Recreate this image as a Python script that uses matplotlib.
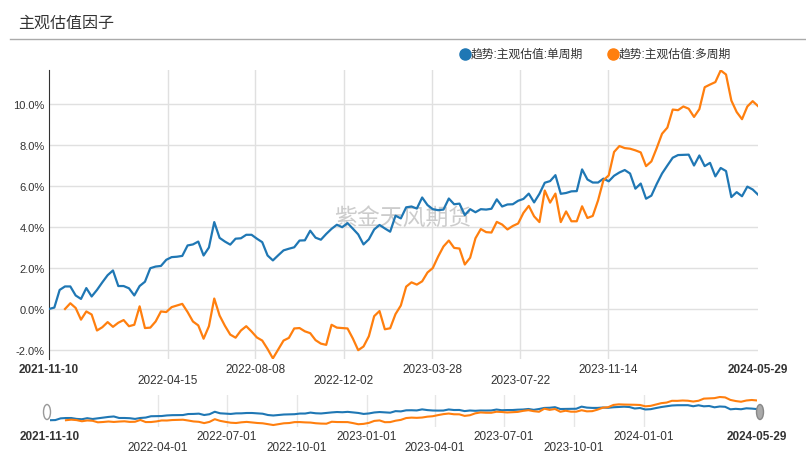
#!/usr/bin/env python3
"""主观估值因子: two weekly cumulative series with a small overview strip"""
import numpy as np
import pandas as pd
import matplotlib
matplotlib.use('Agg')
import matplotlib.pyplot as plt
from matplotlib.lines import Line2D
from matplotlib.patches import Ellipse
from matplotlib.transforms import blended_transform_factory

plt.rcParams['font.family'] = ['Liberation Sans', 'Noto Sans CJK SC', 'DejaVu Sans']

title = '主观估值因子'
watermark = '紫金天风期货'
names = ['趋势:主观估值:单周期', '趋势:主观估值:多周期']
colors = ['#1f77b4', '#ff7f0e']

dates = pd.date_range('2021-11-10', '2024-05-29', freq='7D')

# weekly values in %
single = [
    0.0, 0.07, 0.93, 1.1, 1.1, 0.66, 0.49, 1.02, 0.61, 0.93,
    1.3, 1.65, 1.88, 1.12, 1.12, 1.01, 0.66, 1.12, 1.33, 1.99,
    2.07, 2.1, 2.4, 2.53, 2.55, 2.59, 3.1, 3.15, 3.29, 2.61,
    3.0, 4.24, 3.47, 3.29, 3.14, 3.43, 3.45, 3.62, 3.62, 3.43,
    3.26, 2.61, 2.37, 2.62, 2.86, 2.94, 3.01, 3.34, 3.35, 3.82,
    3.48, 3.38, 3.66, 3.91, 4.11, 3.99, 4.19, 3.92, 3.64, 3.15,
    3.4, 3.88, 4.1, 3.93, 3.77, 4.55, 4.42, 4.96, 5.0, 4.9,
    5.44, 5.07, 4.87, 4.82, 4.85, 5.39, 5.11, 5.14, 4.58, 4.87,
    4.72, 4.87, 4.85, 4.89, 5.35, 5.0, 5.1, 5.11, 5.28, 5.37,
    5.63, 5.2, 5.62, 6.16, 6.24, 6.53, 5.62, 5.66, 5.74, 5.75,
    6.81, 6.32, 6.17, 6.17, 6.36, 6.23, 6.5, 6.66, 6.78, 6.61,
    5.87, 6.12, 5.38, 5.53, 6.1, 6.61, 7.0, 7.38, 7.51, 7.52,
    7.53, 7.0, 7.49, 6.97, 7.13, 6.47, 6.88, 6.73, 5.46, 5.7,
    5.5, 5.97, 5.83, 5.58,
]
multi = [
    np.nan, np.nan, np.nan, 0.0, 0.28, 0.05, -0.52, -0.12, -0.27, -1.05,
    -0.89, -0.64, -0.87, -0.67, -0.54, -0.84, -0.77, 0.13, -0.93, -0.91,
    -0.61, -0.12, -0.15, 0.09, 0.17, 0.25, -0.15, -0.61, -0.8, -1.45,
    -0.84, 0.51, -0.32, -0.82, -1.25, -1.4, -1.05, -0.84, -1.1, -1.39,
    -1.54, -1.95, -2.41, -1.97, -1.54, -1.41, -0.95, -0.93, -1.09, -1.18,
    -1.52, -1.69, -1.75, -0.77, -0.91, -0.93, -0.95, -1.44, -2.01, -1.83,
    -1.33, -0.35, -0.1, -0.99, -0.94, -0.25, 0.17, 1.09, 1.3, 1.19,
    1.35, 1.78, 2.0, 2.56, 3.05, 3.34, 2.98, 2.95, 2.17, 2.5,
    3.45, 3.9, 3.75, 3.73, 4.25, 4.12, 3.88, 4.05, 4.17, 4.69,
    5.03, 4.52, 4.24, 5.78, 5.19, 5.63, 4.24, 4.76, 4.28, 4.28,
    5.01, 4.44, 4.54, 5.3, 6.28, 6.52, 7.66, 7.95, 7.85, 7.82,
    7.74, 7.64, 6.97, 7.2, 7.85, 8.55, 8.85, 9.73, 9.7, 9.88,
    9.77, 9.37, 9.75, 10.82, 10.95, 11.07, 11.64, 11.44, 10.17, 9.61,
    9.26, 9.88, 10.14, 9.9,
]

y_ticks = [-2, 0, 2, 4, 6, 8, 10]
main_ticks = ['2021-11-10', '2022-04-15', '2022-08-08', '2022-12-02',
              '2023-03-28', '2023-07-22', '2023-11-14', '2024-05-29']
slider_ticks = ['2021-11-10', '2022-04-01', '2022-07-01', '2022-10-01',
                '2023-01-01', '2023-04-01', '2023-07-01', '2023-10-01',
                '2024-01-01', '2024-05-29']

W, H = 806, 460


def fx(px):
    return px / W


def fy(py):
    return 1 - py / H


fig = plt.figure(figsize=(W / 100, H / 100), dpi=100)

# header
fig.text(fx(18), fy(23), title, fontsize=11.5, color='#333333',
         ha='left', va='center', family=['Noto Sans CJK SC'])
fig.add_artist(Line2D([fx(10), fx(806)], [fy(40), fy(40)], color='#aaaaaa', lw=1))

# legend
for cx, name, c in zip([465, 613], names, colors):
    fig.add_artist(Line2D([fx(cx)], [fy(55)], marker='o', ms=8, color=c,
                          transform=fig.transFigure))
    fig.text(fx(cx + 6), fy(55), name, fontsize=8.5, color='#333333',
             ha='left', va='center')

# main chart
ax = fig.add_axes([fx(49), fy(360), (758 - 49) / W, (360 - 71) / H])
for vals, c in zip([single, multi], colors):
    ax.plot(dates, vals, color=c, lw=1.6, zorder=3)
ax.set_xlim(dates[0], dates[-1])
ax.set_ylim(-2.44, 11.66)
ax.set_yticks(y_ticks)
ax.set_yticklabels([f'{v:.1f}%' for v in y_ticks])
ax.tick_params(axis='y', length=0, pad=3, labelsize=8, labelcolor='#333333')
ax.set_xticks([])
ax.yaxis.grid(True, color='#e0e0e0', lw=1)
for d in main_ticks[1:-1]:
    ax.axvline(pd.Timestamp(d), color='#e0e0e0', lw=1, zorder=0)
for s in ['top', 'right', 'bottom']:
    ax.spines[s].set_visible(False)
ax.spines['left'].set_color('#333333')
ax.text(fx(403), fy(218), watermark, transform=fig.transFigure, fontsize=16.5,
        color='#cccccc', ha='center', va='center', zorder=1,
        family=['Noto Sans CJK SC'])

trans = blended_transform_factory(ax.transData, fig.transFigure)
last = len(main_ticks) - 1
for i, d in enumerate(main_ticks):
    row = 1 if (i % 2 == 1 and i != last) else 0
    ax.text(pd.Timestamp(d), fy(370 + 11 * row), d, transform=trans,
            ha='center', va='center', fontsize=8.5, color='#333333',
            fontweight='bold' if i in (0, last) else 'normal')

# overview slider
sx = fig.add_axes([fx(50), fy(428), (757 - 50) / W, 32 / H])
for vals, c in zip([single, multi], colors):
    sx.plot(dates, vals, color=c, lw=1.5, zorder=3)
sx.set_xlim(dates[0], dates[-1])
sx.set_ylim(-3.4, 12.64)
sx.set_xticks([])
sx.set_yticks([])
for s in sx.spines.values():
    s.set_visible(False)
for d in slider_ticks[1:-1]:
    sx.axvline(pd.Timestamp(d), color='#e6e6e6', lw=1, zorder=0)

strans = blended_transform_factory(sx.transData, fig.transFigure)
slast = len(slider_ticks) - 1
for i, d in enumerate(slider_ticks):
    row = 1 if (i % 2 == 1 and i != slast) else 0
    sx.text(pd.Timestamp(d), fy(437 + 11 * row), d, transform=strans,
            ha='center', va='center', fontsize=8.5, color='#333333',
            fontweight='bold' if i in (0, slast) else 'normal')

fig.add_artist(Ellipse((fx(47), fy(413)), 7 / W, 15 / H, transform=fig.transFigure,
                       facecolor='white', edgecolor='#999999', lw=1))
fig.add_artist(Ellipse((fx(760), fy(413)), 7 / W, 15 / H, transform=fig.transFigure,
                       facecolor='#aaaaaa', edgecolor='#888888', lw=1))

fig.savefig('out.png', dpi=100)
